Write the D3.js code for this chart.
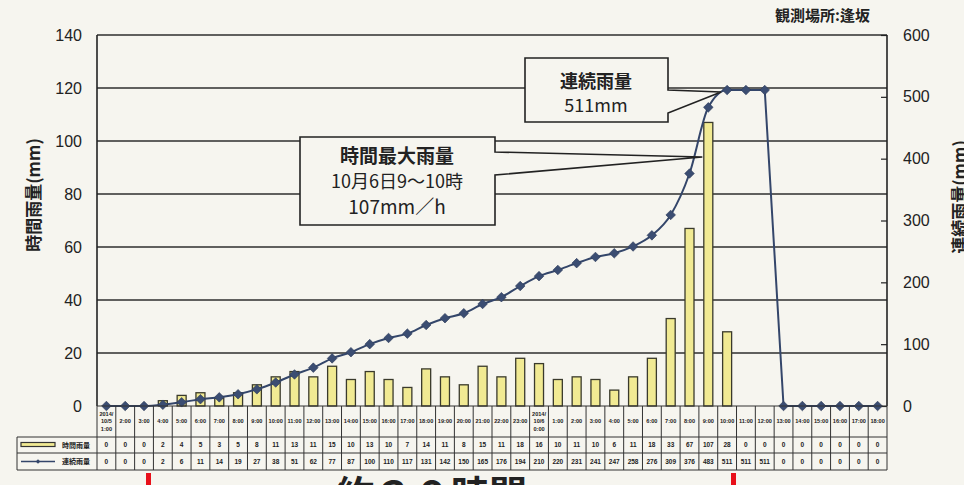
<!DOCTYPE html>
<html>
<head>
<meta charset="utf-8">
<script src="https://cdn.jsdelivr.net/npm/d3@7"></script>
<style>
  body { margin: 0; background: #f6f5ef; }
  svg { display: block; }
  text { font-family: "Noto Sans CJK JP", "Liberation Sans", sans-serif; fill: #222; }
</style>
</head>
<body>
<div id="chart"></div>
<script>
const times = [
  "2014/10/5 1:00", "2:00", "3:00", "4:00", "5:00", "6:00", "7:00", "8:00", "9:00", "10:00",
  "11:00", "12:00", "13:00", "14:00", "15:00", "16:00", "17:00", "18:00", "19:00", "20:00",
  "21:00", "22:00", "23:00", "2014/10/6 0:00", "1:00", "2:00", "3:00", "4:00", "5:00", "6:00",
  "7:00", "8:00", "9:00", "10:00", "11:00", "12:00", "13:00", "14:00", "15:00", "16:00",
  "17:00", "18:00"
];
const hourlyRain = [
  0, 0, 0, 2, 4, 5, 3, 5, 8, 11, 13, 11, 15, 10, 13, 10, 7, 14, 11, 8, 15, 11, 18,
  16, 10, 11, 10, 6, 11, 18, 33, 67, 107, 28, 0, 0, 0, 0, 0, 0, 0, 0
];
const cumulativeRain = [
  0, 0, 0, 2, 6, 11, 14, 19, 27, 38, 51, 62, 77, 87, 100, 110, 117, 131, 142, 150, 165, 176, 194,
  210, 220, 231, 241, 247, 258, 276, 309, 376, 483, 511, 511, 511, 0, 0, 0, 0, 0, 0
];
const leftTicks = [0, 20, 40, 60, 80, 100, 120, 140];
const rightTicks = [0, 100, 200, 300, 400, 500, 600];
const rowLabels = ["時間雨量", "連続雨量"];

// ---- canvas ----
const W = 964, H = 485;
const bg = "#f6f5ef";
const svg = d3.select("#chart").append("svg")
    .attr("width", W).attr("height", H)
    .attr("viewBox", `0 0 ${W} ${H}`);

svg.append("rect").attr("width", W).attr("height", H).attr("fill", bg);

const pLeft = 97, pRight = 887, pTop = 35, pBottom = 406;

const x = d3.scaleBand().domain(d3.range(times.length)).range([pLeft, pRight]).padding(0);
const cx = i => x(i) + x.bandwidth() / 2;
const yL = d3.scaleLinear().domain([0, 140]).range([pBottom, pTop]);
const yR = d3.scaleLinear().domain([0, 600]).range([pBottom, pTop]);

// grid lines (every 20 on left axis)
svg.append("g").selectAll("line")
  .data(leftTicks.filter(d => d > 0))
  .enter().append("line")
  .attr("x1", pLeft).attr("x2", pRight)
  .attr("y1", d => yL(d)).attr("y2", d => yL(d))
  .attr("stroke", "#2e2e2e").attr("stroke-width", 1.4);

// frame
svg.append("line").attr("x1", pLeft).attr("x2", pLeft).attr("y1", pTop).attr("y2", pBottom)
  .attr("stroke", "#222").attr("stroke-width", 1.6);
svg.append("line").attr("x1", pRight).attr("x2", pRight).attr("y1", pTop).attr("y2", pBottom)
  .attr("stroke", "#222").attr("stroke-width", 1.6);

// left axis
const axL = svg.append("g").attr("transform", `translate(${pLeft},0)`)
  .call(d3.axisLeft(yL).tickValues(leftTicks).tickSize(0).tickPadding(15));
axL.select(".domain").remove();
axL.selectAll("text").style("font-size", "16px").style("font-family", "Liberation Sans, sans-serif").attr("fill", "#222");

// right axis (short inward ticks)
const axR = svg.append("g").attr("transform", `translate(${pRight},0)`)
  .call(d3.axisRight(yR).tickValues(rightTicks).tickSizeInner(-6).tickSizeOuter(0).tickPadding(16));
axR.select(".domain").remove();
axR.selectAll("line").attr("stroke", "#222").attr("stroke-width", 1.2);
axR.selectAll("text").style("font-size", "16px").style("font-family", "Liberation Sans, sans-serif").attr("fill", "#222");

// axis titles
svg.append("text")
  .attr("transform", "translate(32,195) rotate(-90)")
  .attr("text-anchor", "middle").attr("dominant-baseline", "central")
  .style("font-size", "17px").style("font-weight", "bold")
  .text("時間雨量(mm)");
svg.append("text")
  .attr("transform", "translate(958,197) rotate(-90)")
  .attr("text-anchor", "middle").attr("dominant-baseline", "central")
  .style("font-size", "17px").style("font-weight", "bold")
  .text("連続雨量(mm)");

svg.append("text").attr("x", 870).attr("y", 21).attr("text-anchor", "end")
  .style("font-size", "15px").style("font-weight", "bold")
  .text("観測場所:逢坂");

// bars
const barW = 9;
svg.append("g").selectAll("rect")
  .data(hourlyRain)
  .enter().append("rect")
  .attr("x", (d, i) => cx(i) - barW / 2)
  .attr("y", d => yL(d))
  .attr("width", barW)
  .attr("height", d => pBottom - yL(d))
  .attr("fill", "#f1ea93")
  .attr("stroke", "#3a3a2c")
  .attr("stroke-width", d => d > 0 ? 1.3 : 0);

// cumulative line: smooth while rising, straight for the reset
const pts = cumulativeRain.map((d, i) => [cx(i), yR(d)]);
const lineColor = "#34466a";
svg.append("path")
  .attr("d", d3.line().curve(d3.curveMonotoneX)(pts.slice(0, 36)))
  .attr("fill", "none").attr("stroke", lineColor).attr("stroke-width", 2);
svg.append("path")
  .attr("d", d3.line()(pts.slice(35)))
  .attr("fill", "none").attr("stroke", lineColor).attr("stroke-width", 2);

svg.append("g").selectAll("path")
  .data(pts)
  .enter().append("path")
  .attr("d", d3.symbol(d3.symbolSquare, 46)())
  .attr("transform", d => `translate(${d[0]},${d[1]}) rotate(45)`)
  .attr("fill", "#3b4d72").attr("stroke", "#2c3a58").attr("stroke-width", 0.6);

// callouts
const callout = (x0, y0, x1, y1, wy0, wy1, tip) =>
  `M${x0},${y0}H${x1}V${wy0}L${tip[0]},${tip[1]}L${x1},${wy1}V${y1}H${x0}Z`;

// 連続雨量 box, tip at the 10:00 marker
const tip1 = [cx(33) - 6, yR(511) + 2];
svg.append("path").attr("d", callout(525, 58, 668, 122, 90, 113, tip1))
  .attr("fill", bg).attr("stroke", "#222").attr("stroke-width", 1.6);
svg.append("text").attr("x", 596).attr("y", 88).attr("text-anchor", "middle")
  .style("font-size", "18px").style("font-weight", "bold").text("連続雨量");
svg.append("text").attr("x", 596).attr("y", 112).attr("text-anchor", "middle")
  .style("font-size", "18px").text("511mm");

// 時間最大雨量 box, tip at the 9:00 bar
const tip2 = [cx(32) - 6, 157];
svg.append("path").attr("d", callout(300, 137, 495, 225, 152, 175, tip2))
  .attr("fill", bg).attr("stroke", "#222").attr("stroke-width", 1.6);
svg.append("text").attr("x", 397).attr("y", 163).attr("text-anchor", "middle")
  .style("font-size", "19px").style("font-weight", "bold").text("時間最大雨量");
svg.append("text").attr("x", 397).attr("y", 188).attr("text-anchor", "middle")
  .style("font-size", "18px").text("10月6日9～10時");
svg.append("text").attr("x", 397).attr("y", 214).attr("text-anchor", "middle")
  .style("font-size", "19px").text("107mm／h");

// ---- data table ----
const tTop = pBottom, tHead = 437, tRow1 = 453, tBot = 470, tLeft = 17;
const tbl = svg.append("g");
const tl = (x1, y1, x2, y2) => tbl.append("line")
  .attr("x1", x1).attr("y1", y1).attr("x2", x2).attr("y2", y2)
  .attr("stroke", "#333").attr("stroke-width", 1);

tl(pLeft, tTop, pRight, tTop);
tl(tLeft, tHead, pRight, tHead);
tl(tLeft, tRow1, pRight, tRow1);
tl(tLeft, tBot, pRight, tBot);
tl(tLeft, tHead, tLeft, tBot);
tl(pLeft, tTop, pLeft, tBot);
times.forEach((t, i) => tl(x(i) + x.bandwidth(), tTop, x(i) + x.bandwidth(), tBot));

const smallFont = "Liberation Sans, sans-serif";

// header labels
times.forEach((t, i) => {
  const parts = t.split(" ");
  const lines = parts.length > 1 ? [parts[0].slice(0, 5), parts[0].slice(5), parts[1]] : [t];
  const g = tbl.append("text").attr("text-anchor", "middle")
    .style("font-size", "5.6px").style("font-weight", "bold").style("font-family", smallFont)
    .attr("fill", "#333");
  lines.forEach((s, k) => {
    g.append("tspan").attr("x", cx(i))
      .attr("y", 423 + (k - (lines.length - 1) / 2) * 7.5)
      .text(s);
  });
});

// value rows
[hourlyRain, cumulativeRain].forEach((arr, r) => {
  const yy = r === 0 ? (tHead + tRow1) / 2 : (tRow1 + tBot) / 2;
  tbl.selectAll(null).data(arr).enter().append("text")
    .attr("x", (d, i) => cx(i)).attr("y", yy + 2.3)
    .attr("text-anchor", "middle")
    .style("font-size", "6.5px").style("font-weight", "bold").style("font-family", smallFont)
    .attr("fill", "#333")
    .text(d => d);
});

// row labels with legend keys
rowLabels.forEach((s, r) => {
  const yy = r === 0 ? (tHead + tRow1) / 2 : (tRow1 + tBot) / 2;
  tbl.append("text").attr("x", 62).attr("y", yy + 2.5)
    .style("font-size", "7px").style("font-weight", "bold").attr("fill", "#333").text(s);
});
tbl.append("rect").attr("x", 21).attr("y", 442.5).attr("width", 34).attr("height", 4)
  .attr("fill", "#f1ea93").attr("stroke", "#333").attr("stroke-width", 1.2);
tbl.append("line").attr("x1", 21).attr("x2", 55).attr("y1", 461.5).attr("y2", 461.5)
  .attr("stroke", lineColor).attr("stroke-width", 1.5);
tbl.append("path").attr("d", d3.symbol(d3.symbolSquare, 10)())
  .attr("transform", "translate(38,461.5) rotate(45)").attr("fill", lineColor);

// red bracket note at the bottom (cut off by the frame, as in the source)
svg.append("rect").attr("x", 146).attr("y", 473).attr("width", 5).attr("height", 14).attr("fill", "#e8101a");
svg.append("rect").attr("x", 731).attr("y", 473).attr("width", 5).attr("height", 14).attr("fill", "#e8101a");
svg.append("text").attr("x", 432).attr("y", 508).attr("text-anchor", "middle")
  .style("font-size", "38px").style("font-weight", "bold").attr("fill", "#e8101a")
  .text("約３０時間");
</script>
</body>
</html>
